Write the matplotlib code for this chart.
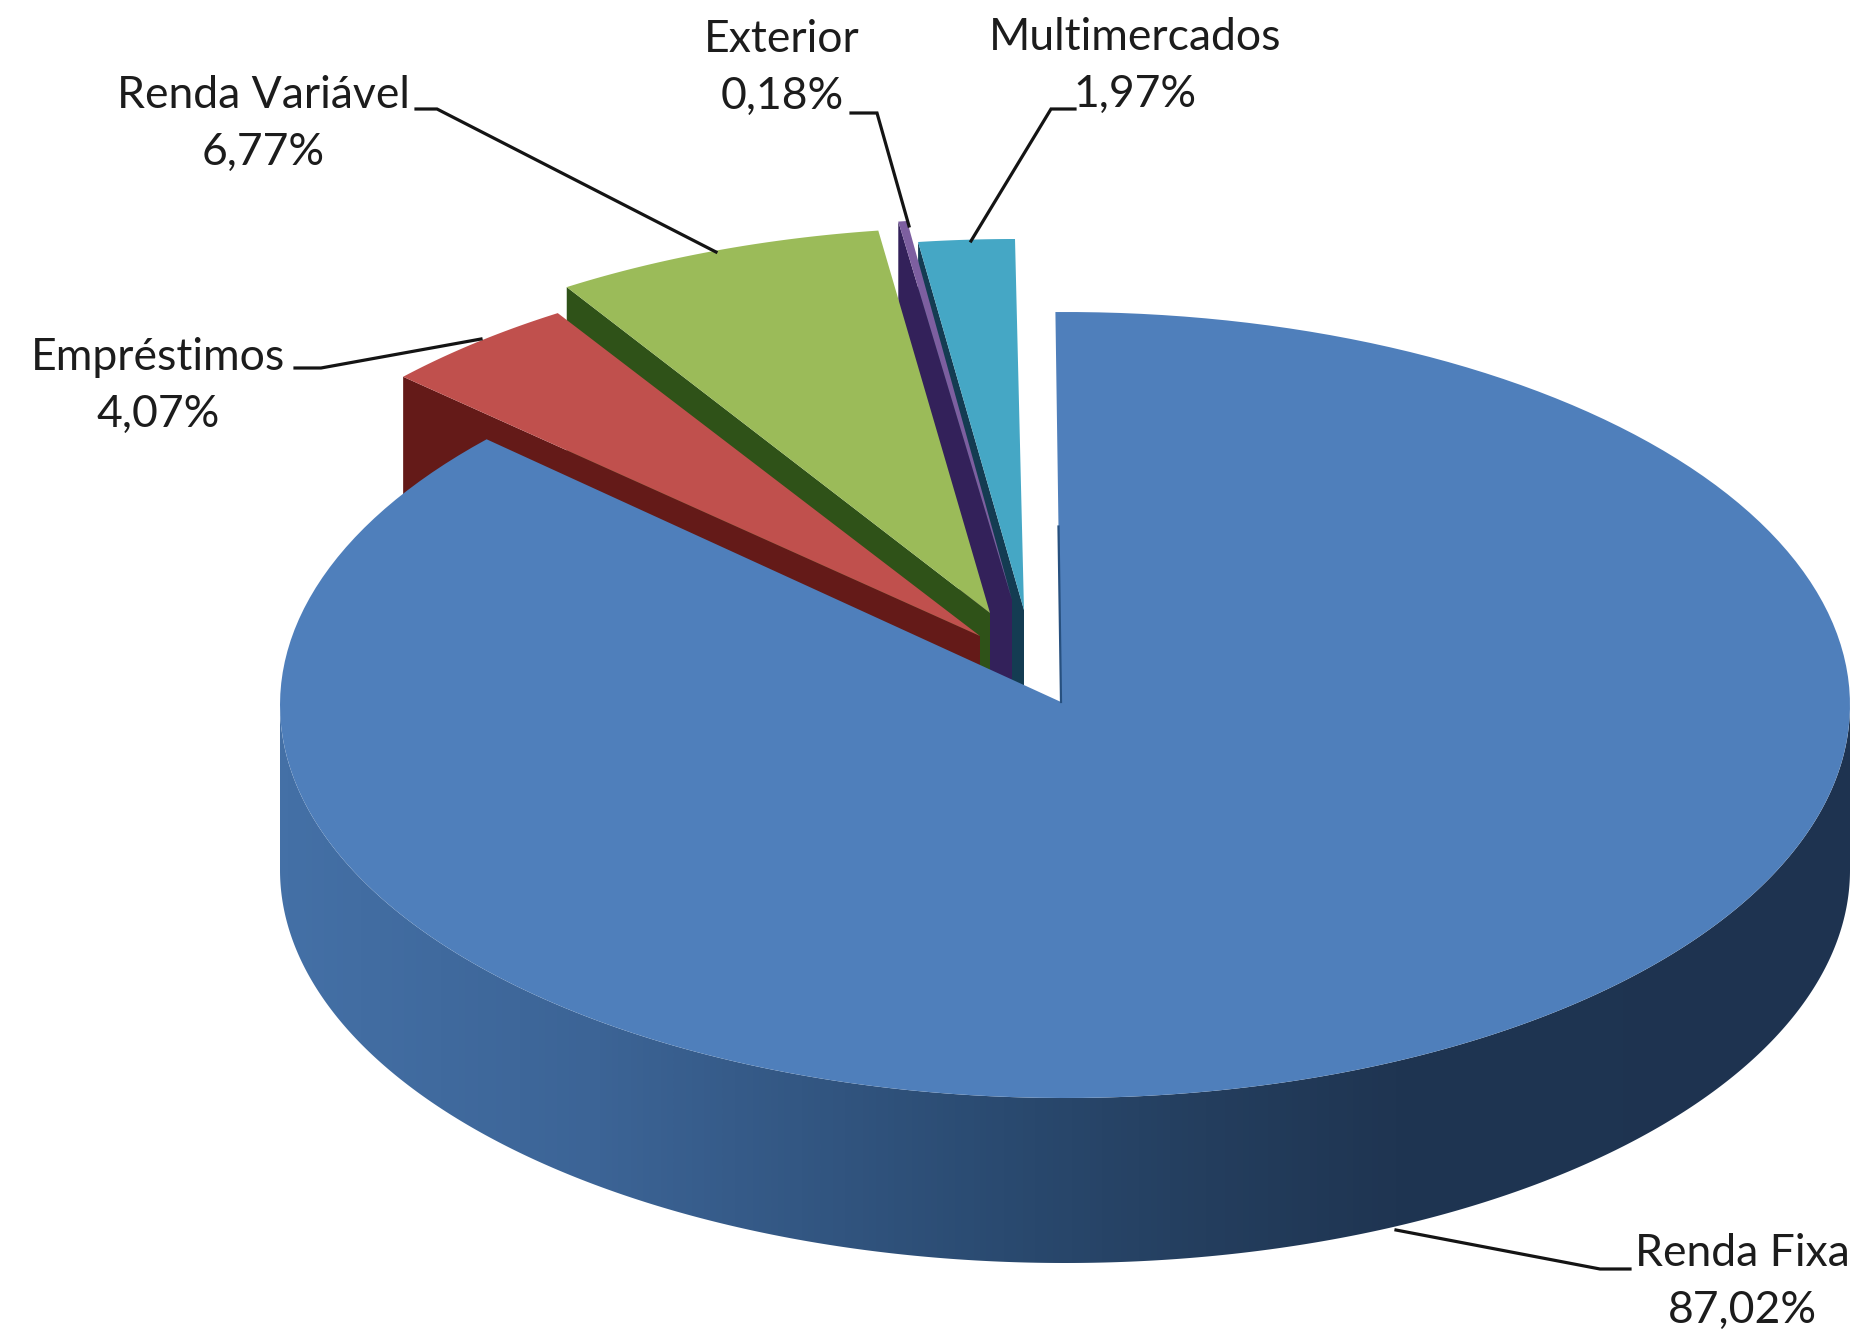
import numpy as np
import matplotlib
matplotlib.use('Agg')
import matplotlib.pyplot as plt
from matplotlib.colors import LinearSegmentedColormap
from matplotlib.patches import Polygon

plt.rcParams['font.family'] = ['Lato', 'DejaVu Sans']

# data
categories = ['Renda Fixa', 'Empréstimos', 'Renda Variável', 'Exterior', 'Multimercados']
shares = [87.02, 4.07, 6.77, 0.18, 1.97]

# styles
top_colors = ['#4f7fbb', '#c0504d', '#9bbb59', '#7d5fa0', '#45a7c5']
side_colors = ['#2f4f7b', '#641a18', '#2f5218', '#33215a', '#143c52']
side_cmap = LinearSegmentedColormap.from_list('side', [
    (0.0, '#4470a6'), (0.2, '#3c6496'), (0.46, '#2a4a70'),
    (0.59, '#243e5e'), (0.71, '#1f3552'), (1.0, '#1e3350')])

# layout, in picture pixels
RX, RY = 785, 393
DEPTH = 165
# centre of the rim ellipse / tip of the slice
arc_centres = [(1065, 705), (975, 646), (984, 620), (1004, 611), (1015, 632)]
tips = [(1061, 702), (980, 636), (990, 613), (1012, 600), (1024, 610)]
rotation = [-0.7, 0, 0, 0, 0]
draw_order = [4, 3, 2, 1, 0]

label_pos = [(1742, 1282), (158, 386), (263, 124), (782, 68), (1135, 66)]
leaders = [
    [(1630, 1269), (1600, 1269), (1396, 1230)],
    [(295, 368), (321, 368), (481, 339)],
    [(416, 109), (437, 109), (716, 252)],
    [(851, 113), (877, 113), (909, 226)],
    [(1075, 109), (1051, 109), (971, 241)],
]


def arc(centre, t0, t1, n=200):
    t = np.radians(np.linspace(t0, t1, n))
    return np.column_stack([centre[0] + RX * np.sin(t), centre[1] - RY * np.cos(t)])


fig = plt.figure(figsize=(18.6, 13.36), dpi=100)
ax = fig.add_axes([0, 0, 1, 1])

edges = np.cumsum([0] + shares) / sum(shares) * 360

for z, i in enumerate(draw_order):
    t0, t1 = edges[i] + rotation[i], edges[i + 1] + rotation[i]
    rim = arc(arc_centres[i], t0, t1)
    tip = np.array(tips[i])
    down = np.array([0, DEPTH])

    if i != 0:
        # cut face on the start side of the slice
        face = np.array([rim[0], tip, tip + down, rim[0] + down])
        ax.add_patch(Polygon(face, closed=True, fc=side_colors[i], ec='none', zorder=z * 3 + 1))
    else:
        # rim of the big slice, shaded from left to right
        low = arc(arc_centres[i], 90, 270, 400)
        band = Polygon(np.vstack([low, low[::-1] + down]), closed=True, fc='none', ec='none')
        ax.add_patch(band)
        ramp = np.linspace(0, 1, 512).reshape(1, -1)
        im = ax.imshow(ramp, cmap=side_cmap, aspect='auto', interpolation='bilinear',
                       extent=(low[:, 0].min(), low[:, 0].max(), low[:, 1].max() + DEPTH, low[:, 1].min()),
                       zorder=z * 3 + 1)
        im.set_clip_path(band)

    ax.add_patch(Polygon(np.vstack([tip, rim]), closed=True, fc=top_colors[i], ec='none', zorder=z * 3 + 2))

    if i == 0:
        # thin dark sliver of the cut face next to the gap
        mid = tip + (rim[0] - tip) * 0.45
        ax.plot([mid[0], tip[0]], [mid[1], tip[1]], color='#27507f', lw=1.6, zorder=z * 3 + 3)

for name, share, pos, leader in zip(categories, shares, label_pos, leaders):
    xs, ys = zip(*leader)
    ax.plot(xs, ys, color='#141414', lw=2.3, zorder=30, solid_joinstyle='miter')
    text = '{}\n{}%'.format(name, '{:.2f}'.format(share).replace('.', ','))
    ax.text(pos[0], pos[1], text, ha='center', va='center', fontsize=32, color='#1c1c1c',
            linespacing=1.46, zorder=31)

ax.set_xlim(0, 1860)
ax.set_ylim(1336, 0)
ax.axis('off')

fig.savefig('out.png', dpi=100, facecolor='white')
